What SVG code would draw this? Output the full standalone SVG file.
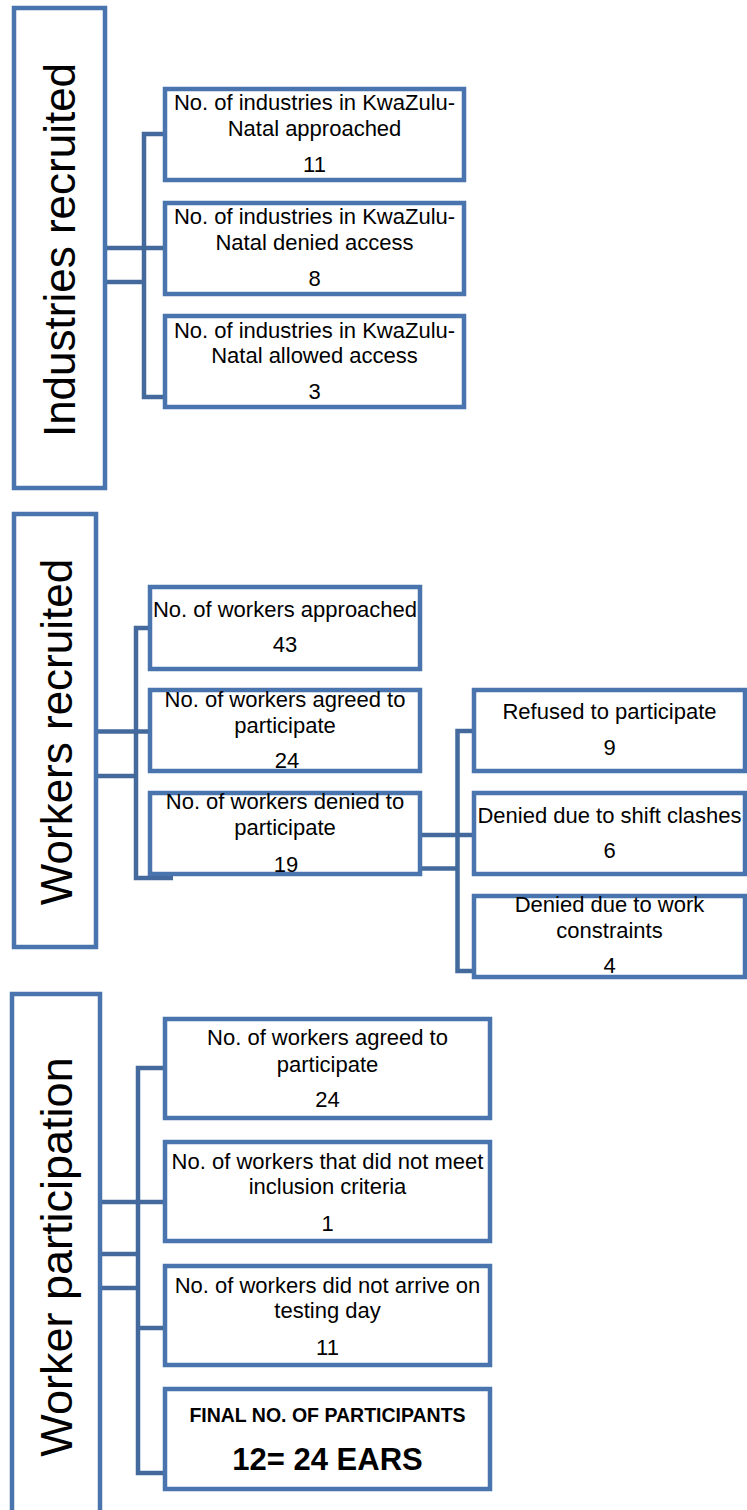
<svg xmlns="http://www.w3.org/2000/svg" width="747" height="1510" viewBox="0 0 747 1510">
<style>
.bg{fill:#ffffff}
.box{fill:#ffffff;stroke:#4a74ad;stroke-width:4.5}
.conn{fill:none;stroke:#43699d;stroke-width:4.5;stroke-linecap:butt;stroke-linejoin:miter}
.t{font-family:"Liberation Sans",Arial,sans-serif;font-size:22px;fill:#000;text-anchor:middle}
.big{font-family:"Liberation Sans",Arial,sans-serif;font-size:44px;fill:#000;text-anchor:middle}
.b1{font-family:"Liberation Sans",Arial,sans-serif;font-size:19.5px;font-weight:bold;fill:#000;text-anchor:middle}
.b2{font-family:"Liberation Sans",Arial,sans-serif;font-size:31px;font-weight:bold;fill:#000;text-anchor:middle}
</style>
<rect class="bg" x="0" y="0" width="747" height="1510"/>

<g id="connectors">
  <path class="conn" d="M163,134 H144 V397 H163"/>
  <path class="conn" d="M105,248 H163"/>
  <path class="conn" d="M105,282 H144"/>
  <path class="conn" d="M148,628 H136 V878 H173"/>
  <path class="conn" d="M96,731.5 H148"/>
  <path class="conn" d="M96,776 H136"/>
  <path class="conn" d="M472,731 H457.5 V971 H472"/>
  <path class="conn" d="M420,835 H472"/>
  <path class="conn" d="M420,868.5 H457.5"/>
  <path class="conn" d="M163,1068 H138 V1473 H163"/>
  <path class="conn" d="M100,1202 H163"/>
  <path class="conn" d="M100,1254 H138"/>
  <path class="conn" d="M100,1288 H138"/>
  <path class="conn" d="M138,1328 H163"/>
</g>

<g id="industries-recruited">
  <rect class="box" x="14" y="8" width="91" height="480"/>
  <text class="big" transform="translate(75,250) rotate(-90)">Industries recruited</text>
</g>
<g id="ind-approached">
  <rect class="box" x="165" y="89" width="299" height="91"/>
  <text class="t" x="314.5" y="110">No. of industries in KwaZulu-</text>
  <text class="t" x="314.5" y="136">Natal approached</text>
  <text class="t" x="314.5" y="172">11</text>
</g>
<g id="ind-denied">
  <rect class="box" x="165" y="203" width="299" height="91"/>
  <text class="t" x="314.5" y="224">No. of industries in KwaZulu-</text>
  <text class="t" x="314.5" y="250">Natal denied access</text>
  <text class="t" x="314.5" y="286">8</text>
</g>
<g id="ind-allowed">
  <rect class="box" x="165" y="316" width="299" height="91"/>
  <text class="t" x="314.5" y="338">No. of industries in KwaZulu-</text>
  <text class="t" x="314.5" y="363">Natal allowed access</text>
  <text class="t" x="314.5" y="399">3</text>
</g>

<g id="workers-recruited">
  <rect class="box" x="14" y="514" width="82" height="433"/>
  <text class="big" transform="translate(72,732) rotate(-90)">Workers recruited</text>
</g>
<g id="w-approached">
  <rect class="box" x="150" y="587" width="270" height="82"/>
  <text class="t" x="285" y="617">No. of workers approached</text>
  <text class="t" x="285" y="652">43</text>
</g>
<g id="w-agreed">
  <rect class="box" x="150" y="690" width="270" height="81"/>
  <text class="t" x="285" y="707">No. of workers agreed to</text>
  <text class="t" x="285" y="733">participate</text>
  <text class="t" x="287" y="768">24</text>
</g>
<g id="w-denied">
  <rect class="box" x="150" y="793" width="270" height="81"/>
  <text class="t" x="285" y="809">No. of workers denied to</text>
  <text class="t" x="285" y="835">participate</text>
  <text class="t" x="286" y="872">19</text>
</g>
<g id="w-refused">
  <rect class="box" x="474" y="690" width="271" height="81"/>
  <text class="t" x="609.5" y="719">Refused to participate</text>
  <text class="t" x="609.5" y="755">9</text>
</g>
<g id="w-shift">
  <rect class="box" x="474" y="793" width="271" height="81"/>
  <text class="t" x="609.5" y="823">Denied due to shift clashes</text>
  <text class="t" x="609.5" y="858">6</text>
</g>
<g id="w-work">
  <rect class="box" x="474" y="896" width="271" height="81"/>
  <text class="t" x="609.5" y="912">Denied due to work</text>
  <text class="t" x="609.5" y="938">constraints</text>
  <text class="t" x="609.5" y="973">4</text>
</g>

<g id="worker-participation">
  <rect class="box" x="12" y="994" width="88" height="560"/>
  <text class="big" style="font-size:45px" transform="translate(72,1257) rotate(-90)">Worker participation</text>
</g>
<g id="p-agreed">
  <rect class="box" x="165" y="1019" width="325" height="99"/>
  <text class="t" x="327.5" y="1045">No. of workers agreed to</text>
  <text class="t" x="327.5" y="1072">participate</text>
  <text class="t" x="327.5" y="1107">24</text>
</g>
<g id="p-criteria">
  <rect class="box" x="165" y="1142" width="325" height="99"/>
  <text class="t" x="327.5" y="1169">No. of workers that did not meet</text>
  <text class="t" x="327.5" y="1194">inclusion criteria</text>
  <text class="t" x="327.5" y="1231">1</text>
</g>
<g id="p-noarrive">
  <rect class="box" x="165" y="1266" width="325" height="99"/>
  <text class="t" x="327.5" y="1293">No. of workers did not arrive on</text>
  <text class="t" x="327.5" y="1318">testing day</text>
  <text class="t" x="327.5" y="1355">11</text>
</g>
<g id="p-final">
  <rect class="box" x="165" y="1389" width="325" height="100"/>
  <text class="b1" x="327.5" y="1422">FINAL NO. OF PARTICIPANTS</text>
  <text class="b2" x="327.5" y="1470">12= 24 EARS</text>
</g>
</svg>
